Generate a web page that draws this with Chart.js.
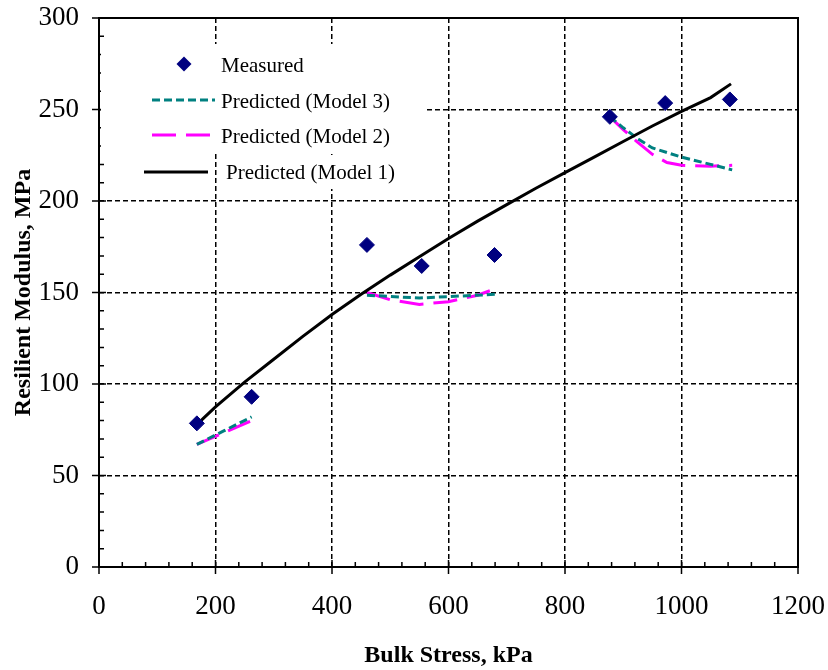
<!DOCTYPE html>
<html>
<head>
<meta charset="utf-8">
<script src="https://cdn.jsdelivr.net/npm/chart.js@4.4.0/dist/chart.umd.min.js"></script>
<style>
  html, body { margin: 0; padding: 0; background: #fff; }
  #wrap { width: 828px; height: 670px; }
</style>
</head>
<body>
<div id="wrap"><canvas id="modulus" width="828" height="670"></canvas></div>
<script>
const measuredX = [168, 262, 460, 554, 679, 877, 972, 1083];
const measuredY = [78.5, 93, 176, 164.5, 170.5, 246, 253.5, 255.5];

const model1X = [165, 200, 250, 300, 350, 400, 450, 500, 550, 600, 650, 700, 750, 800, 850, 900, 950, 1000, 1050, 1085];
const model1Y = [77, 87.5, 101, 113.5, 126, 138, 149, 159.5, 169.5, 179.5, 189, 198, 207, 215.5, 224, 232.5, 241, 249, 256.5, 264];

// null entries split the three short predicted segments
const model2X = [168, 215, 262, null, 460, 500, 550, 600, 650, 680, null, 877, 900, 925, 950, 975, 1000, 1050, 1087];
const model2Y = [67, 73.5, 80, null, 150, 146, 143.5, 145, 148.5, 152, null, 246, 239, 232, 225.5, 221, 219.5, 219, 219.5];

const model3X = [168, 215, 262, null, 460, 550, 680, null, 877, 900, 925, 950, 1000, 1050, 1087];
const model3Y = [67, 74.5, 82, null, 148.5, 147, 149, null, 246, 240, 234, 229, 224, 220, 217];

const serif = "'Liberation Serif', 'Times New Roman', serif";

const pts = (xs, ys) => xs.map((x, i) => ({ x: x, y: ys[i] }));

function diamond(c, x, y, r) {
  c.beginPath();
  c.moveTo(x, y - r);
  c.lineTo(x + r, y);
  c.lineTo(x, y + r);
  c.lineTo(x - r, y);
  c.closePath();
  c.fill();
}

// axis frame with crossing major ticks and inside minor ticks
const frameTicks = {
  id: 'frameTicks',
  afterDatasetsDraw(chart) {
    const { ctx: c, chartArea: a, scales } = chart;
    c.save();
    c.strokeStyle = '#000';
    c.lineWidth = 2;
    c.strokeRect(a.left, a.top, a.right - a.left, a.bottom - a.top);
    c.lineWidth = 1.5;
    c.beginPath();
    for (let v = 0; v <= 1200; v += 40) {
      const px = scales.x.getPixelForValue(v);
      if (v % 200 === 0) {
        c.moveTo(px, a.bottom - 7);
        c.lineTo(px, a.bottom + 7);
      } else {
        c.moveTo(px, a.bottom - 5);
        c.lineTo(px, a.bottom);
      }
    }
    for (let v = 0; v <= 300; v += 10) {
      const py = scales.y.getPixelForValue(v);
      if (v % 50 === 0) {
        c.moveTo(a.left - 7, py);
        c.lineTo(a.left + 7, py);
      } else {
        c.moveTo(a.left, py);
        c.lineTo(a.left + 5, py);
      }
    }
    c.stroke();
    c.restore();
  }
};

const boxLegend = {
  id: 'boxLegend',
  afterDraw(chart) {
    const c = chart.ctx;
    const ds = chart.data.datasets;
    c.save();
    c.fillStyle = '#fff';
    c.fillRect(101, 44, 324, 109);
    c.fillRect(222, 155, 200, 34);

    c.fillStyle = ds[0].backgroundColor;
    diamond(c, 184, 64, 7.5);

    c.lineWidth = 3;
    c.strokeStyle = ds[1].borderColor;
    c.setLineDash(ds[1].borderDash);
    c.beginPath(); c.moveTo(152, 100); c.lineTo(215, 100); c.stroke();

    c.strokeStyle = ds[2].borderColor;
    c.setLineDash(ds[2].borderDash);
    c.beginPath(); c.moveTo(152, 135); c.lineTo(215, 135); c.stroke();

    c.strokeStyle = ds[3].borderColor;
    c.setLineDash([]);
    c.beginPath(); c.moveTo(144, 172); c.lineTo(208, 172); c.stroke();

    c.fillStyle = '#000';
    c.font = '21px ' + serif;
    c.textBaseline = 'middle';
    c.fillText(ds[0].label, 221, 66);
    c.fillText(ds[1].label, 221, 102);
    c.fillText(ds[2].label, 221, 137);
    c.fillText(ds[3].label, 226, 173);
    c.restore();
  }
};

const ctx = document.getElementById('modulus').getContext('2d');

new Chart(ctx, {
  type: 'scatter',
  data: {
    datasets: [
      {
        label: 'Measured',
        data: pts(measuredX, measuredY),
        pointStyle: 'rectRot',
        pointRadius: 7.5,
        backgroundColor: '#000080',
        borderColor: '#000080',
        borderWidth: 1,
        order: 0
      },
      {
        label: 'Predicted (Model 3)',
        data: pts(model3X, model3Y),
        showLine: true,
        spanGaps: false,
        borderColor: '#008080',
        borderWidth: 3,
        borderDash: [8, 4],
        pointRadius: 0,
        order: 2
      },
      {
        label: 'Predicted (Model 2)',
        data: pts(model2X, model2Y),
        showLine: true,
        spanGaps: false,
        borderColor: '#ff00ff',
        borderWidth: 3,
        borderDash: [24, 10],
        pointRadius: 0,
        order: 3
      },
      {
        label: 'Predicted (Model 1)',
        data: pts(model1X, model1Y),
        showLine: true,
        borderColor: '#000000',
        borderWidth: 3,
        pointRadius: 0,
        order: 1
      }
    ]
  },
  options: {
    responsive: false,
    animation: false,
    devicePixelRatio: 1,
    layout: {
      padding: { top: 18, right: 30, left: 0, bottom: 0 }
    },
    plugins: {
      legend: { display: false },
      tooltip: { enabled: false }
    },
    scales: {
      x: {
        type: 'linear',
        min: 0,
        max: 1200,
        afterFit: (scale) => { scale.height = 103; },
        ticks: {
          stepSize: 200,
          padding: 0,
          color: '#000',
          font: { family: serif, size: 27 },
          callback: (v) => String(v)
        },
        grid: {
          drawTicks: true,
          tickLength: 24,
          tickColor: 'rgba(0,0,0,0)',
          color: '#000',
          lineWidth: 1.5
        },
        border: { display: false, dash: [5, 3] },
        title: {
          display: true,
          text: 'Bulk Stress, kPa',
          color: '#000',
          padding: { top: 0, bottom: 0 },
          font: { family: serif, size: 24, weight: 'bold' }
        }
      },
      y: {
        min: 0,
        max: 300,
        afterFit: (scale) => { scale.width = 99; },
        ticks: {
          stepSize: 50,
          padding: 0,
          color: '#000',
          font: { family: serif, size: 27 },
          callback: (v) => String(v)
        },
        grid: {
          drawTicks: true,
          tickLength: 20,
          tickColor: 'rgba(0,0,0,0)',
          color: '#000',
          lineWidth: 1.5
        },
        border: { display: false, dash: [5, 3] },
        title: {
          display: true,
          text: 'Resilient Modulus, MPa',
          color: '#000',
          padding: { top: 9, bottom: 0 },
          font: { family: serif, size: 24, weight: 'bold' }
        }
      }
    }
  },
  plugins: [frameTicks, boxLegend]
});
</script>
</body>
</html>
